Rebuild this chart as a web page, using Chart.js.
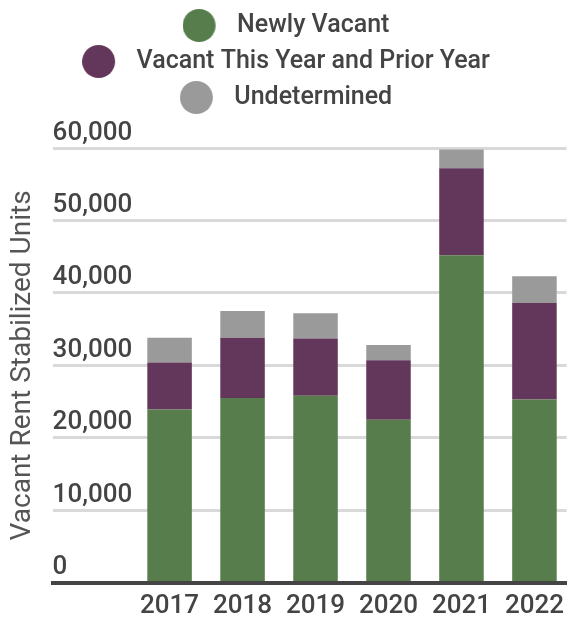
<!DOCTYPE html>
<html>
<head>
<meta charset="utf-8">
<script src="https://cdn.jsdelivr.net/npm/chart.js@4.4.1/dist/chart.umd.min.js"></script>
<style>
  html, body { margin: 0; padding: 0; background: #fff; }
  #wrap { width: 572px; height: 622px; }
</style>
</head>
<body>
<div id="wrap"><canvas id="vacantChart"></canvas></div>
<script>
// Values
const years = [2017, 2018, 2019, 2020, 2021, 2022];
const newlyVacant = [23900, 25500, 25800, 22500, 45200, 25300];
const vacantPriorYear = [6500, 8300, 7900, 8200, 12000, 13300];
const undetermined = [3400, 3700, 3500, 2100, 2600, 3700];
const yTicks = [0, 10000, 20000, 30000, 40000, 50000, 60000];

const textColor = '#444';

// round legend marker with a bit of room before the text
function legendDot(color) {
    const c = document.createElement('canvas');
    c.width = 42;
    c.height = 33;
    const ctx = c.getContext('2d');
    ctx.fillStyle = color;
    ctx.beginPath();
    ctx.arc(16.5, 16.5, 16.5, 0, Math.PI * 2);
    ctx.fill();
    return c;
}

// extra room between legend and plot
const legendGap = {
    id: 'legendGap',
    beforeInit(chart) {
        const fit = chart.legend.fit;
        chart.legend.fit = function() {
            fit.call(this);
            this.height += 28;
        };
    }
};

new Chart(document.getElementById('vacantChart').getContext('2d'), {
    type: 'bar',
    data: {
        labels: years,
        datasets: [
            { label: 'Newly Vacant', data: newlyVacant, backgroundColor: '#567d4b' },
            { label: 'Vacant This Year and Prior Year', data: vacantPriorYear, backgroundColor: '#63375b' },
            { label: 'Undetermined', data: undetermined, backgroundColor: '#9a9a9a' }
        ]
    },
    options: {
        responsive: true,
        maintainAspectRatio: false,
        animation: false,
        categoryPercentage: 1,
        barPercentage: 0.61,
        layout: { padding: { top: 2 } },
        plugins: {
            tooltip: { enabled: false },
            legend: {
                position: 'top',
                labels: {
                    usePointStyle: true,
                    pointStyleWidth: 42,
                    padding: 11,
                    color: textColor,
                    font: { family: 'Roboto', size: 25, weight: '500' },
                    generateLabels(chart) {
                        const items = Chart.defaults.plugins.legend.labels.generateLabels(chart);
                        items.forEach(item => { item.pointStyle = legendDot(item.fillStyle); });
                        return items;
                    }
                }
            }
        },
        scales: {
            x: {
                type: 'linear',
                stacked: true,
                offset: false,
                min: 2015.397,
                max: 2022.44,
                grid: { display: false, drawTicks: false },
                border: { display: true, color: '#444', width: 4, z: 1 },
                ticks: {
                    stepSize: 1,
                    includeBounds: false,
                    autoSkip: false,
                    maxRotation: 0,
                    padding: 8,
                    color: textColor,
                    font: { family: 'Roboto', size: 26, weight: '500' },
                    callback: v => (Number.isInteger(v) && v >= years[0]) ? String(v) : ''
                },
                // labels hang close to the bottom edge
                afterFit: scale => { scale.height -= 8; }
            },
            y: {
                stacked: true,
                min: yTicks[0],
                max: yTicks[yTicks.length - 1],
                grid: { color: '#d9d9d9', lineWidth: 3, drawTicks: false },
                border: { display: false },
                ticks: {
                    stepSize: yTicks[1] - yTicks[0],
                    mirror: true,
                    padding: 0,
                    labelOffset: -15,
                    color: textColor,
                    font: { family: 'Roboto', size: 26, weight: '500' }
                },
                title: {
                    display: true,
                    text: 'Vacant Rent Stabilized Units',
                    color: '#555',
                    font: { family: 'Roboto', size: 28, weight: '400' },
                    padding: { top: 6, bottom: 13 }
                }
            }
        }
    },
    plugins: [legendGap]
});
</script>
</body>
</html>
